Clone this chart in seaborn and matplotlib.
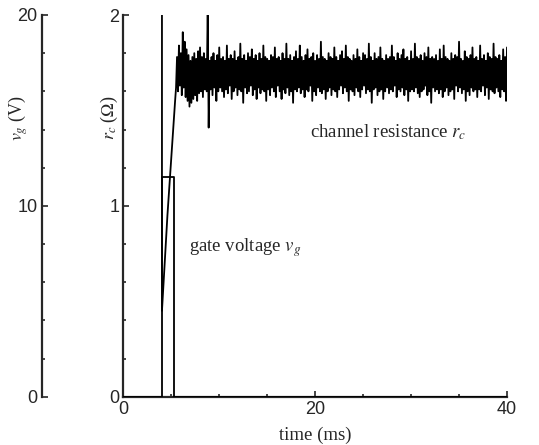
import numpy as np
import matplotlib
matplotlib.use("Agg")
import matplotlib.pyplot as plt
from matplotlib.ticker import MultipleLocator
import seaborn as sns

# ---------------- data ----------------
# gate voltage pulse v_g (V)
vg_time = [0.0, 4.0, 4.0, 5.25, 5.25, 40.0]
vg_volt = [0.0, 0.0, 11.5, 11.5, 0.0, 0.0]

# channel resistance r_c (Ohm): switch-on part (off-scale before the gate opens)
rc_head_time = [0.0, 4.03, 4.03, 4.6, 5.05, 5.4]
rc_head_val = [2.6, 2.6, 0.45, 0.95, 1.29, 1.55]

# channel resistance r_c: oscillating part, sampled every ~0.1 ms from 5.5 ms to 40 ms
rc_osc_start, rc_osc_end = 5.5, 40.0
rc_osc_val = [
    1.62, 1.78, 1.60, 1.84, 1.63, 1.80, 1.58, 1.91, 1.62, 1.86,
    1.57, 1.82, 1.55, 1.79, 1.52, 1.76, 1.54, 1.78, 1.56, 1.80,
    1.58, 1.77, 1.55, 1.81, 1.59, 1.83, 1.60, 1.78, 1.57, 1.80,
    1.61, 1.77, 1.60, 2.05, 1.41, 1.76,
    1.61, 1.78, 1.58, 1.80, 1.62, 1.76, 1.55, 1.79, 1.60, 1.83,
    1.62, 1.77, 1.60, 1.78, 1.57, 1.76, 1.61, 1.84, 1.59, 1.77,
    1.63, 1.79, 1.56, 1.77, 1.60, 1.81, 1.62, 1.76, 1.58, 1.78,
    1.61, 1.85, 1.60, 1.77, 1.54, 1.79, 1.62, 1.76, 1.59, 1.80,
    1.60, 1.78, 1.63, 1.82, 1.58, 1.77, 1.61, 1.79, 1.56, 1.76,
    1.62, 1.80, 1.59, 1.77, 1.61, 1.84, 1.60, 1.78, 1.55, 1.77,
    1.61, 1.76, 1.58, 1.79, 1.62, 1.78, 1.60, 1.83, 1.57, 1.77,
    1.63, 1.78, 1.60, 1.76, 1.56, 1.80, 1.61, 1.77, 1.59, 1.85,
    1.62, 1.77, 1.58, 1.79, 1.60, 1.76, 1.54, 1.78, 1.61, 1.81,
    1.60, 1.77, 1.62, 1.84, 1.59, 1.78, 1.61, 1.76, 1.57, 1.79,
    1.61, 1.82, 1.60, 1.77, 1.63, 1.78, 1.55, 1.80, 1.60, 1.76,
    1.58, 1.79, 1.62, 1.77, 1.60, 1.86, 1.59, 1.78, 1.61, 1.77,
    1.56, 1.76, 1.60, 1.80, 1.62, 1.78, 1.58, 1.77, 1.61, 1.83,
    1.60, 1.78, 1.57, 1.76, 1.61, 1.79, 1.63, 1.81, 1.59, 1.77,
    1.62, 1.84, 1.60, 1.78, 1.55, 1.77, 1.61, 1.76, 1.60, 1.79,
    1.58, 1.77, 1.62, 1.82, 1.60, 1.78, 1.57, 1.76, 1.61, 1.80,
    1.63, 1.79, 1.59, 1.77, 1.61, 1.85, 1.60, 1.78, 1.54, 1.76,
    1.61, 1.80, 1.62, 1.77, 1.58, 1.78, 1.60, 1.83, 1.61, 1.77,
    1.56, 1.76, 1.60, 1.79, 1.62, 1.77, 1.59, 1.78, 1.61, 1.84,
    1.60, 1.78, 1.63, 1.76, 1.57, 1.80, 1.61, 1.77, 1.60, 1.79,
    1.62, 1.82, 1.58, 1.77, 1.61, 1.78, 1.55, 1.76, 1.60, 1.81,
    1.61, 1.77, 1.60, 1.85, 1.62, 1.78, 1.59, 1.77, 1.57, 1.79,
    1.60, 1.76, 1.61, 1.80, 1.63, 1.78, 1.58, 1.83, 1.60, 1.77,
    1.54, 1.78, 1.62, 1.77, 1.60, 1.79, 1.61, 1.76, 1.59, 1.82,
    1.61, 1.77, 1.57, 1.84, 1.60, 1.78, 1.62, 1.77, 1.58, 1.76,
    1.60, 1.80, 1.61, 1.77, 1.56, 1.79, 1.63, 1.78, 1.60, 1.86,
    1.62, 1.77, 1.59, 1.76, 1.61, 1.81, 1.55, 1.78, 1.60, 1.77,
    1.58, 1.79, 1.62, 1.83, 1.60, 1.77, 1.61, 1.78, 1.57, 1.76,
    1.61, 1.84, 1.60, 1.77, 1.63, 1.79, 1.58, 1.76, 1.62, 1.80,
    1.56, 1.78, 1.61, 1.77, 1.60, 1.85, 1.59, 1.78, 1.62, 1.77,
    1.60, 1.79, 1.57, 1.76, 1.61, 1.82, 1.60, 1.78, 1.55, 1.83,
]
rc_osc_time = list(np.linspace(rc_osc_start, rc_osc_end, len(rc_osc_val)))

rc_time = rc_head_time + rc_osc_time
rc_val = rc_head_val + rc_osc_val

x_ticks_major = [0, 20, 40]
rc_ticks_major = [0, 1, 2]
vg_ticks_major = [0, 10, 20]

# ---------------- figure ----------------
sns.set_style("ticks")
plt.rcParams['font.family'] = ['Liberation Sans', 'DejaVu Sans']
plt.rcParams['mathtext.fontset'] = 'stix'

SERIF = 'Liberation Serif'

fig = plt.figure(figsize=(5.39, 4.45), dpi=100)
ax = fig.add_axes([123.3 / 539, (445 - 396.7) / 445, 383.7 / 539, 381.7 / 445])

sns.lineplot(x=rc_time, y=rc_val, ax=ax, color='black', lw=1.3,
             estimator=None, sort=False)

ax.set_xlim(0, 40)
ax.set_ylim(0, 2)
ax.xaxis.set_major_locator(MultipleLocator(20))
ax.xaxis.set_minor_locator(MultipleLocator(5))
ax.yaxis.set_major_locator(MultipleLocator(1))
ax.yaxis.set_minor_locator(MultipleLocator(0.2))
ax.set_xticks(x_ticks_major)
ax.set_yticks(rc_ticks_major)

for s in ['top', 'right']:
    ax.spines[s].set_visible(False)
for s in ['left', 'bottom']:
    ax.spines[s].set_linewidth(1.6)

ax.tick_params(which='both', direction='in', width=1.2, labelsize=13, pad=3,
               top=False, right=False)
ax.tick_params(which='major', length=4)
ax.tick_params(which='minor', length=2.5)

ax.set_xlabel('time (ms)', fontsize=13.5, fontfamily=SERIF, labelpad=6)
ax.set_ylabel(r'$r_c$ ($\Omega$)', fontsize=13, fontfamily=SERIF,
              rotation=90, va='center', ha='center')
ax.yaxis.set_label_coords(-0.035, 0.73)

# second (voltage) axis, its spine shifted to the left
ax2 = ax.twinx()
sns.lineplot(x=vg_time, y=vg_volt, ax=ax2, color='black', lw=1.3,
             estimator=None, sort=False)
ax2.set_ylim(0, 20)
ax2.yaxis.set_major_locator(MultipleLocator(10))
ax2.yaxis.set_minor_locator(MultipleLocator(2))
ax2.set_yticks(vg_ticks_major)
ax2.yaxis.set_ticks_position('left')
ax2.yaxis.set_label_position('left')
for s in ['top', 'right', 'bottom']:
    ax2.spines[s].set_visible(False)
ax2.spines['left'].set_visible(True)
ax2.spines['left'].set_linewidth(1.6)
ax2.spines['left'].set_position(('outward', (123.3 - 41.7) * 0.72))
ax2.tick_params(which='both', direction='in', width=1.2, labelsize=13, pad=3)
ax2.tick_params(which='major', length=4)
ax2.tick_params(which='minor', length=2.5)
ax2.set_ylabel(r'$v_g$ (V)', fontsize=13, fontfamily=SERIF,
               rotation=90, va='center', ha='center')
ax2.yaxis.set_label_coords(-0.2745, 0.73)

ax.text(19.45, 1.36, r'channel resistance $r_c$', fontsize=13.5,
        fontfamily=SERIF, va='baseline', ha='left')
ax.text(6.87, 0.76, r'gate voltage $v_g$', fontsize=13.5,
        fontfamily=SERIF, va='baseline', ha='left')

fig.savefig('out.png', dpi=100)
